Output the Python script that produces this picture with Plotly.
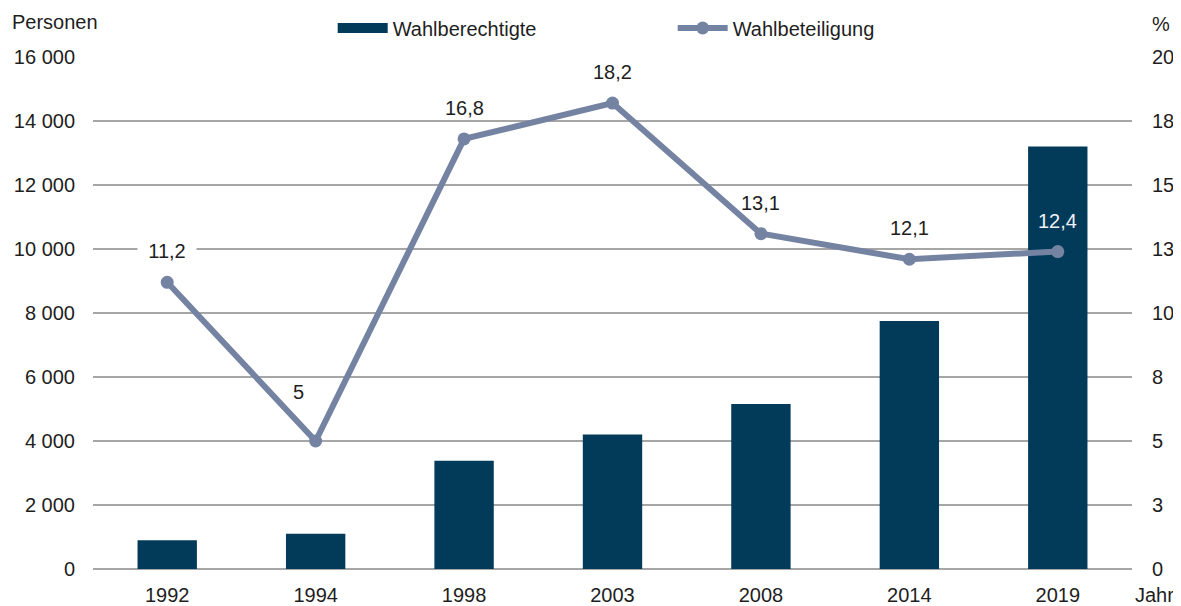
import plotly.graph_objects as go

# ---- data ----
jahre = ["1992", "1994", "1998", "2003", "2008", "2014", "2019"]
wahlberechtigte = [900, 1100, 3380, 4200, 5160, 7750, 13200]
wahlbeteiligung = [11.2, 5, 16.8, 18.2, 13.1, 12.1, 12.4]
label_texte = ["11,2", "5", "16,8", "18,2", "13,1", "12,1", "12,4"]
y_links_ticks = [0, 2000, 4000, 6000, 8000, 10000, 12000, 14000, 16000]
y_rechts_ticks = [0, 2.5, 5, 7.5, 10, 12.5, 15, 17.5, 20]
y_rechts_texte = ["0", "3", "5", "8", "10", "13", "15", "18", "20"]

# ---- styles ----
BAR = "#023a5a"
LINE = "#7583a3"
GRID = "#a6a6a6"
TXT = "#1e1e1e"
FONT = "Liberation Sans, Arial, sans-serif"
FS = 20

fig = go.Figure()

fig.add_trace(go.Bar(
    x=jahre, y=wahlberechtigte, marker=dict(color=BAR, line=dict(width=0)),
    width=0.4, showlegend=False, name="Wahlberechtigte", yaxis="y"))

# legend entry for bars (wide flat rectangle like the original)
fig.add_trace(go.Scatter(
    x=[None], y=[None], mode="lines", line=dict(color=BAR, width=10),
    name="Wahlberechtigte", yaxis="y"))

fig.add_trace(go.Scatter(
    x=jahre, y=wahlbeteiligung, mode="lines+markers", name="Wahlbeteiligung",
    line=dict(color=LINE, width=6), marker=dict(color=LINE, size=13),
    yaxis="y2"))

# data labels
label_style = {
    "1994": dict(xshift=-17, yshift=49),
}
for i, (j, v, t) in enumerate(zip(jahre, wahlbeteiligung, label_texte)):
    st = label_style.get(j, dict(xshift=0, yshift=31))
    kw = dict(x=i, y=v, xref="x", yref="y2", text=t, showarrow=False,
              font=dict(family=FONT, size=FS, color=TXT),
              xshift=st["xshift"], yshift=st["yshift"])
    if j == "1992":
        kw.update(bgcolor="white", width=58, borderpad=0)
    if j == "2019":
        kw["font"] = dict(family=FONT, size=FS, color="#eef1f6")
    fig.add_annotation(**kw)

# axis titles
fig.add_annotation(x=-0.08, y=1.068, xref="paper", yref="paper", text="Personen",
                   showarrow=False, xanchor="left", yanchor="middle",
                   font=dict(family=FONT, size=FS, color=TXT))
fig.add_annotation(x=1.0173, y=1.0645, xref="paper", yref="paper", text="%",
                   showarrow=False, xanchor="left", yanchor="middle",
                   font=dict(family=FONT, size=FS, color=TXT))
fig.add_annotation(x=1.0005, y=-0.051, xref="paper", yref="paper", text="Jahr",
                   showarrow=False, xanchor="left", yanchor="middle",
                   font=dict(family=FONT, size=FS, color=TXT))

# page body has an 8px default margin: size the figure to fit the window
fig.update_layout(
    width=1173, height=598,
    margin=dict(l=85, r=49, t=49, b=37, autoexpand=False),
    paper_bgcolor="white", plot_bgcolor="white",
    separators=", ",
    font=dict(family=FONT, size=FS, color=TXT),
    bargap=0.6,
    legend=dict(orientation="h", x=0.2307, y=1.0566, xanchor="left", yanchor="middle",
                font=dict(family=FONT, size=FS, color=TXT),
                itemwidth=50,
                entrywidth=275, entrywidthmode="pixels",
                bgcolor="rgba(0,0,0,0)"),
    xaxis=dict(type="category", range=[-0.5, 6.5], showgrid=False, showline=False,
               ticks="", ticklabelstandoff=12, tickfont=dict(size=FS, color=TXT)),
    yaxis=dict(range=[0, 16000], tickvals=y_links_ticks, tickformat=",d",
               showgrid=True, gridcolor=GRID, gridwidth=1.5,
               zeroline=True, zerolinecolor=GRID, zerolinewidth=1.5,
               showline=False, ticks="", ticklabelstandoff=17,
               tickfont=dict(size=FS, color=TXT)),
    yaxis2=dict(range=[0, 20], tickvals=y_rechts_ticks, ticktext=y_rechts_texte,
                overlaying="y", side="right", showgrid=False, zeroline=False,
                showline=False, ticks="", ticklabelstandoff=19,
                tickfont=dict(size=FS, color=TXT)),
)

fig.write_html("out.html")
